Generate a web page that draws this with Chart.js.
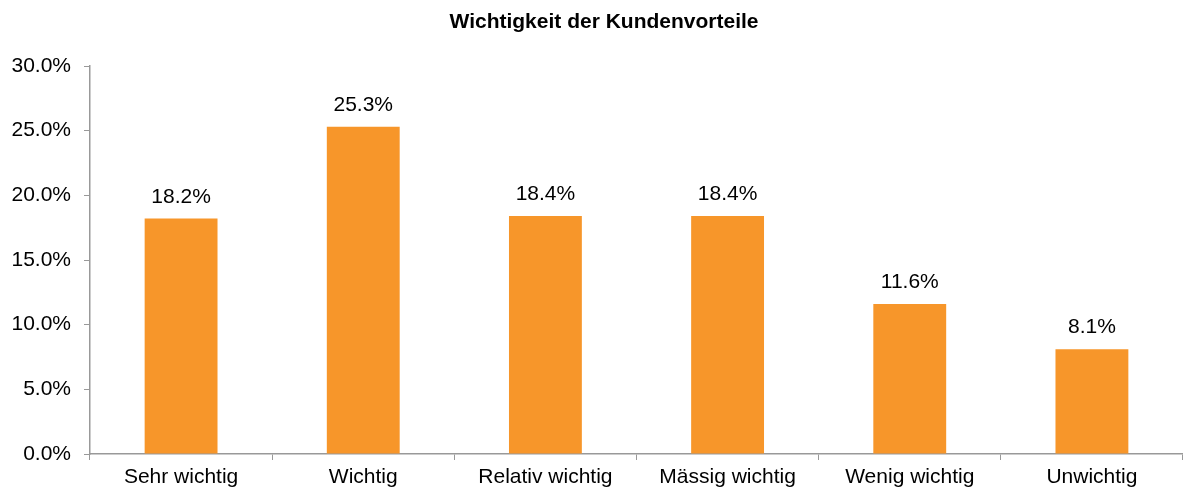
<!DOCTYPE html>
<html>
<head>
<meta charset="utf-8">
<script src="https://cdn.jsdelivr.net/npm/chart.js@4/dist/chart.umd.min.js"></script>
<style>
  html, body { margin: 0; padding: 0; background: #fff; }
  #wrap { width: 1183px; height: 491px; }
</style>
</head>
<body>
<div id="wrap"><canvas id="chart"></canvas></div>
<script>
// chart data
const title = 'Wichtigkeit der Kundenvorteile';
const categories = ['Sehr wichtig', 'Wichtig', 'Relativ wichtig', 'Mässig wichtig', 'Wenig wichtig', 'Unwichtig'];
const shares = [18.2, 25.3, 18.4, 18.4, 11.6, 8.1];

const FONT = "'Liberation Sans', Arial, sans-serif";

// value labels above each bar + title text
const labelsPlugin = {
  id: 'valueLabels',
  afterDatasetsDraw(chart) {
    const ctx = chart.ctx;
    const meta = chart.getDatasetMeta(0);
    ctx.save();
    ctx.font = '21px ' + FONT;
    ctx.fillStyle = '#000';
    ctx.textAlign = 'center';
    ctx.textBaseline = 'alphabetic';
    meta.data.forEach((bar, i) => {
      ctx.fillText(shares[i].toFixed(1) + '%', bar.x, bar.y - 16);
    });
    ctx.font = 'bold 21px ' + FONT;
    ctx.textBaseline = 'middle';
    ctx.fillText(title, 604, 22);
    ctx.restore();
  }
};

new Chart(document.getElementById('chart'), {
  type: 'bar',
  data: {
    labels: categories,
    datasets: [{
      data: shares,
      backgroundColor: '#f7962a',
      barPercentage: 0.4,
      categoryPercentage: 1.0
    }]
  },
  options: {
    responsive: true,
    maintainAspectRatio: false,
    animation: false,
    layout: { padding: { top: 66, left: 0, right: 0, bottom: 0 } },
    plugins: {
      legend: { display: false },
      tooltip: { enabled: false },
      title: { display: false }
    },
    scales: {
      x: {
        afterFit(scale) { scale.height = 37; },
        grid: { drawOnChartArea: false, tickLength: 6, color: '#999', offset: true },
        border: { color: '#999', width: 1.5 },
        ticks: { color: '#000', padding: 5, font: { size: 21, family: FONT } }
      },
      y: {
        min: 0,
        max: 30,
        afterFit(scale) { scale.width = 90; },
        grid: { drawOnChartArea: false, tickLength: 6, color: '#999' },
        border: { color: '#999', width: 1.5 },
        ticks: {
          stepSize: 5,
          color: '#000',
          padding: 13,
          font: { size: 21, family: FONT },
          callback: v => v.toFixed(1) + '%'
        }
      }
    }
  },
  plugins: [labelsPlugin]
});
</script>
</body>
</html>
